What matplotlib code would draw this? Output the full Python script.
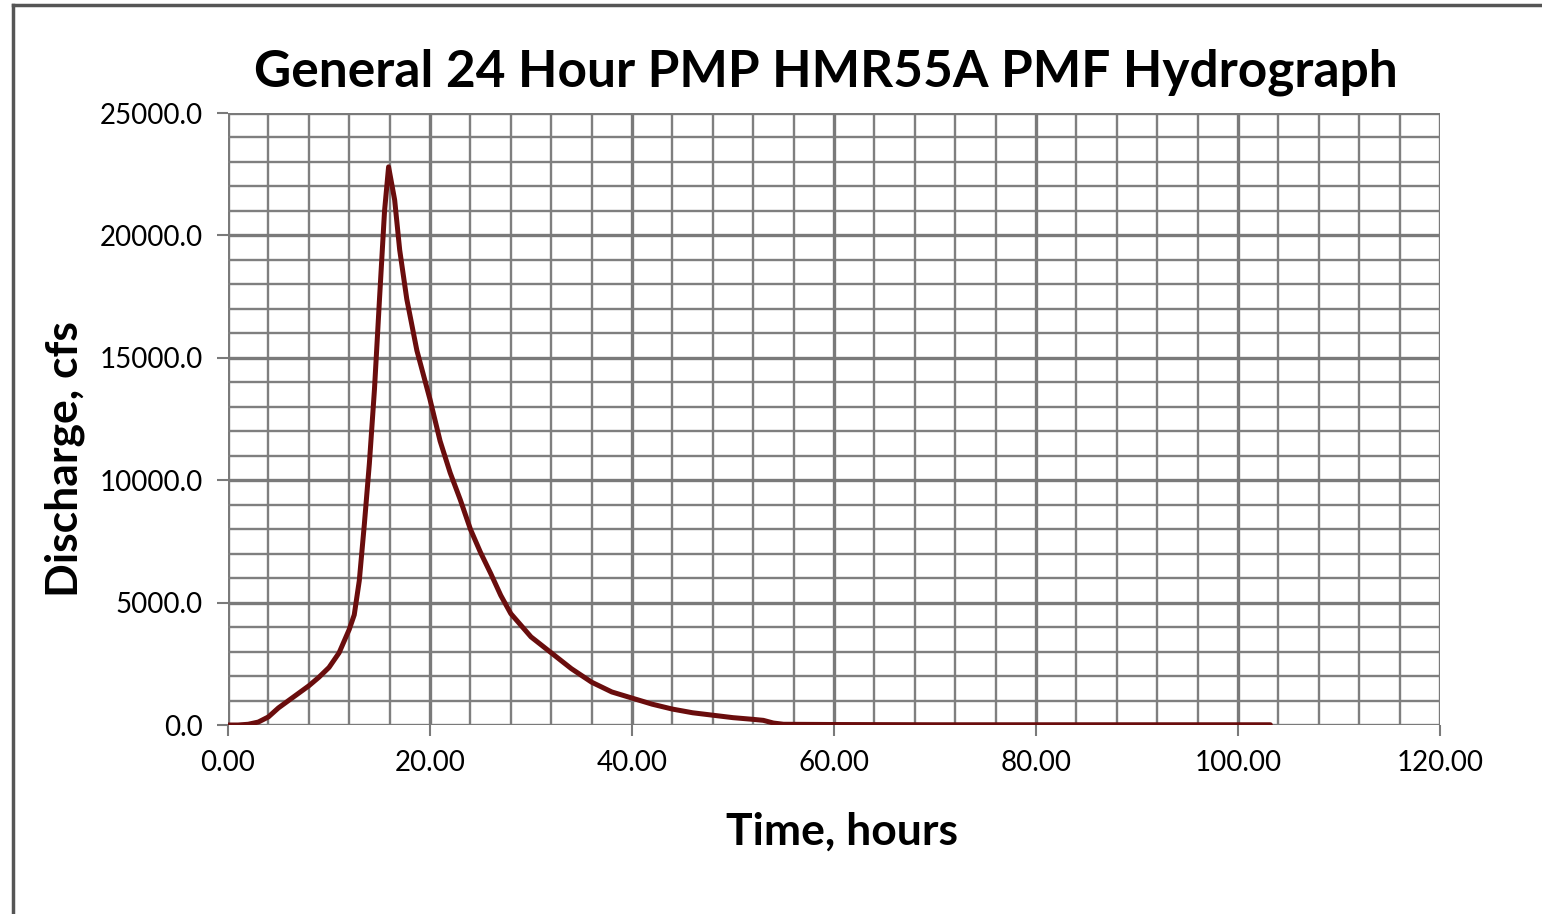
import matplotlib.pyplot as plt
from matplotlib.ticker import MultipleLocator, FormatStrFormatter
from matplotlib.lines import Line2D

# hydrograph (hours, cfs)
time_hr = [0, 1, 2, 3, 4, 5, 6, 7, 8, 9, 10, 11, 12, 12.5, 13, 13.5, 14, 14.5,
           15, 15.5, 15.9, 16.5, 17, 17.7, 18.7, 20, 21, 22, 23, 24, 25, 26,
           27, 28, 30, 32, 34, 36, 38, 40, 42, 44, 46, 48, 50, 52, 53, 54, 55,
           60, 70, 80, 90, 100, 103.2]
discharge_cfs = [0, 0, 30, 120, 330, 700, 1000, 1300, 1600, 1950, 2350, 2950,
                 3900, 4500, 5900, 8200, 10700, 13700, 17400, 21000, 22800,
                 21450, 19400, 17400, 15300, 13300, 11600, 10300, 9200, 8000,
                 7050, 6200, 5300, 4550, 3600, 2950, 2300, 1750, 1350, 1100,
                 850, 650, 500, 400, 300, 230, 190, 80, 30, 20, 10, 10, 10, 10, 10]

plt.rcParams['font.family'] = ['Lato', 'DejaVu Sans']

fig = plt.figure(figsize=(15.42, 9.14), dpi=100)
ax = fig.add_axes([228/1542, 1 - 725/914, 1212/1542, 612/914])

ax.plot(time_hr, discharge_cfs, color='#6a0d0d', lw=3.6,
        solid_capstyle='round', solid_joinstyle='round', zorder=3)

ax.set_xlim(0, 120)
ax.set_ylim(0, 25000)
ax.xaxis.set_major_locator(MultipleLocator(20))
ax.xaxis.set_minor_locator(MultipleLocator(4))
ax.yaxis.set_major_locator(MultipleLocator(5000))
ax.yaxis.set_minor_locator(MultipleLocator(1000))
ax.xaxis.set_major_formatter(FormatStrFormatter('%.2f'))
ax.yaxis.set_major_formatter(FormatStrFormatter('%.1f'))

ax.grid(which='major', color='#7a7a7a', lw=2.4)
ax.grid(which='minor', color='#7f7f7f', lw=1.7)
ax.set_axisbelow(True)
for s in ax.spines.values():
    s.set_visible(False)

ax.tick_params(which='major', length=8, width=1.5, color='#7a7a7a',
               labelsize=20, pad=10)
ax.tick_params(which='minor', length=0)

ax.set_xlabel('Time, hours', fontsize=32, fontweight='bold')
ax.set_ylabel('Discharge, cfs', fontsize=32, fontweight='bold')
ax.xaxis.set_label_coords(0.507, -0.142)
ax.yaxis.set_label_coords(-0.118, 0.435)

fig.text(826/1542, 1 - 72/914, 'General 24 Hour PMP HMR55A PMF Hydrograph',
         ha='center', va='center', fontsize=37, fontweight='bold')

# frame edge visible at top and left of the picture
fig.add_artist(Line2D([13/1542, 13/1542], [1 - 5/914, 0], color='#555555', lw=2.5))
fig.add_artist(Line2D([13/1542, 1], [1 - 5/914, 1 - 5/914], color='#555555', lw=2.5))

fig.savefig('out.png', dpi=100)
